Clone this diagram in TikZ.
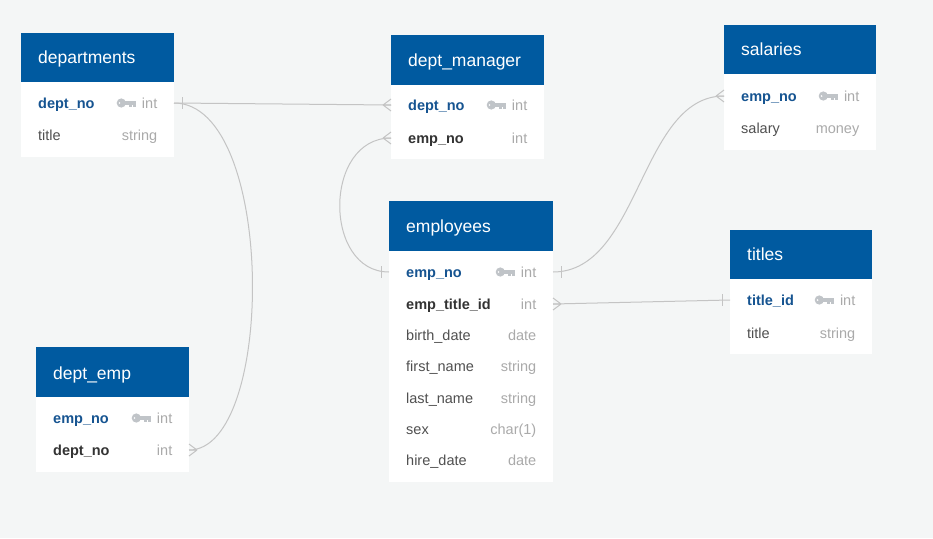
\documentclass[tikz,border=0pt]{standalone}
\usepackage{fontspec}
\setmainfont{Liberation Sans}
\usetikzlibrary{calc}
\definecolor{bg}{RGB}{244,246,246}
\definecolor{hdr}{RGB}{0,90,160}
\definecolor{pk}{RGB}{22,84,145}
\definecolor{fk}{RGB}{51,51,51}
\definecolor{fld}{RGB}{80,80,80}
\definecolor{typ}{RGB}{170,170,170}
\definecolor{keyc}{RGB}{192,196,200}
\definecolor{lnk}{RGB}{196,196,196}
\tikzset{
  hdrbox/.style={fill=hdr,draw=none,anchor=north west,inner sep=0pt},
  ttl/.style={text=white,anchor=base west,inner sep=0pt,font=\fontsize{17.5}{20}\selectfont},
  pkname/.style={text=pk,anchor=base west,inner sep=0pt,font=\fontsize{14.5}{17}\selectfont\bfseries},
  fkname/.style={text=fk,anchor=base west,inner sep=0pt,font=\fontsize{14.5}{17}\selectfont\bfseries},
  fldname/.style={text=fld,anchor=base west,inner sep=0pt,font=\fontsize{14.5}{17}\selectfont},
  typname/.style={text=typ,anchor=base east,inner sep=0pt,font=\fontsize{14.5}{17}\selectfont},
  link/.style={draw=lnk,line width=1pt},
  pics/keyicon/.style={code={
    \fill[keyc] (4.5,0) circle (4.6pt);
    \fill[white] (2.8,0) circle (0.9pt);
    \fill[keyc] (7,-2.1) rectangle (19,2.1);
    \fill[keyc] (12.6,2.1) rectangle (15,4.4);
    \fill[keyc] (16.4,2.1) rectangle (19,4.4);
  }}
}
\newcommand\crowLeft[1]{\draw[link] ([xshift=-8pt]#1) -- ([yshift=6pt]#1) ([xshift=-8pt]#1) -- ([yshift=-6pt]#1) ([xshift=-8pt]#1) -- (#1);}
\newcommand\crowRight[1]{\draw[link] ([xshift=8pt]#1) -- ([yshift=6pt]#1) ([xshift=8pt]#1) -- ([yshift=-6pt]#1) ([xshift=8pt]#1) -- (#1);}
\newcommand\barLeft[1]{\draw[link] ([xshift=-8pt,yshift=6pt]#1) -- ([xshift=-8pt,yshift=-6pt]#1);}
\newcommand\barRight[1]{\draw[link] ([xshift=8pt,yshift=6pt]#1) -- ([xshift=8pt,yshift=-6pt]#1);}
% \tablebox{name}{x0}{x1}{top}{headerbottom}{bottom}{title}{titley}
\newcommand\tablebox[8]{%
  \path[fill=white] (#2,#5) rectangle (#3,#6);
  \node[hdrbox,minimum width={(#3-#2)*1pt},minimum height={(#5-#4)*1pt}] (#1) at (#2,#4) {};
  \node[ttl] (#1-title) at (#2+17,#8+6.2) {#7};
}
% \row{table}{field}{style}{y}{x0}{x1}{type}{key?}
\newcommand\row[8]{%
  \node[#3] (#1-#2) at (#5+17,#4+5.2) {\detokenize{#2}};
  \node[typname] (#1-#2-type) at (#6-16.5,#4+5.2) {#7};
  \coordinate (#1-#2-l) at (#5,#4);
  \coordinate (#1-#2-r) at (#6,#4);
  \ifx#8y\pic at ([xshift=-25pt]#1-#2-type.base west |- #1-#2-l) {keyicon};\fi
}
\begin{document}
\begin{tikzpicture}[x=1pt,y=-1pt]
\fill[bg] (0,0) rectangle (933,538);
\useasboundingbox (0,0) rectangle (933,538);

% departments
\tablebox{departments}{21}{174}{33}{82}{157}{departments}{57.5}
\row{departments}{dept_no}{pkname}{103}{21}{174}{int}{y}
\row{departments}{title}{fldname}{135}{21}{174}{string}{n}

% dept_manager
\tablebox{dept_manager}{391}{544}{35}{85}{159}{dept\_manager}{60}
\row{dept_manager}{dept_no}{pkname}{105}{391}{544}{int}{y}
\row{dept_manager}{emp_no}{fkname}{138}{391}{544}{int}{n}

% salaries
\tablebox{salaries}{724}{876}{25}{74}{150}{salaries}{49.5}
\row{salaries}{emp_no}{pkname}{96}{724}{876}{int}{y}
\row{salaries}{salary}{fldname}{128}{724}{876}{money}{n}

% employees
\tablebox{employees}{389}{553}{201}{251}{482}{employees}{226}
\row{employees}{emp_no}{pkname}{272}{389}{553}{int}{y}
\row{employees}{emp_title_id}{fkname}{304}{389}{553}{int}{n}
\row{employees}{birth_date}{fldname}{335}{389}{553}{date}{n}
\row{employees}{first_name}{fldname}{366}{389}{553}{string}{n}
\row{employees}{last_name}{fldname}{398}{389}{553}{string}{n}
\row{employees}{sex}{fldname}{429}{389}{553}{char(1)}{n}
\row{employees}{hire_date}{fldname}{460}{389}{553}{date}{n}

% titles
\tablebox{titles}{730}{872}{230}{279}{354}{titles}{254.5}
\row{titles}{title_id}{pkname}{300}{730}{872}{int}{y}
\row{titles}{title}{fldname}{333}{730}{872}{string}{n}

% dept_emp
\tablebox{dept_emp}{36}{189}{347}{397}{472}{dept\_emp}{373}
\row{dept_emp}{emp_no}{pkname}{418}{36}{189}{int}{y}
\row{dept_emp}{dept_no}{fkname}{450}{36}{189}{int}{n}

% connectors
\draw[link] (departments-dept_no-r) -- (dept_manager-dept_no-l);
\barRight{departments-dept_no-r}
\crowLeft{dept_manager-dept_no-l}

\draw[link] (departments-dept_no-r) .. controls ($(departments-dept_no-r)+(102,0)$) and ($(dept_emp-dept_no-r)+(87,0)$) .. (dept_emp-dept_no-r);
\crowRight{dept_emp-dept_no-r}

\draw[link] (employees-emp_no-l) .. controls ($(employees-emp_no-l)+(-66,0)$) and ($(dept_manager-emp_no-l)+(-68,0)$) .. (dept_manager-emp_no-l);
\barLeft{employees-emp_no-l}
\crowLeft{dept_manager-emp_no-l}

\draw[link] (employees-emp_no-r) .. controls ($(employees-emp_no-r)+(87,0)$) and ($(salaries-emp_no-l)+(-84,0)$) .. (salaries-emp_no-l);
\barRight{employees-emp_no-r}
\crowLeft{salaries-emp_no-l}

\draw[link] (employees-emp_title_id-r) -- (titles-title_id-l);
\crowRight{employees-emp_title_id-r}
\barLeft{titles-title_id-l}
\end{tikzpicture}
\end{document}
